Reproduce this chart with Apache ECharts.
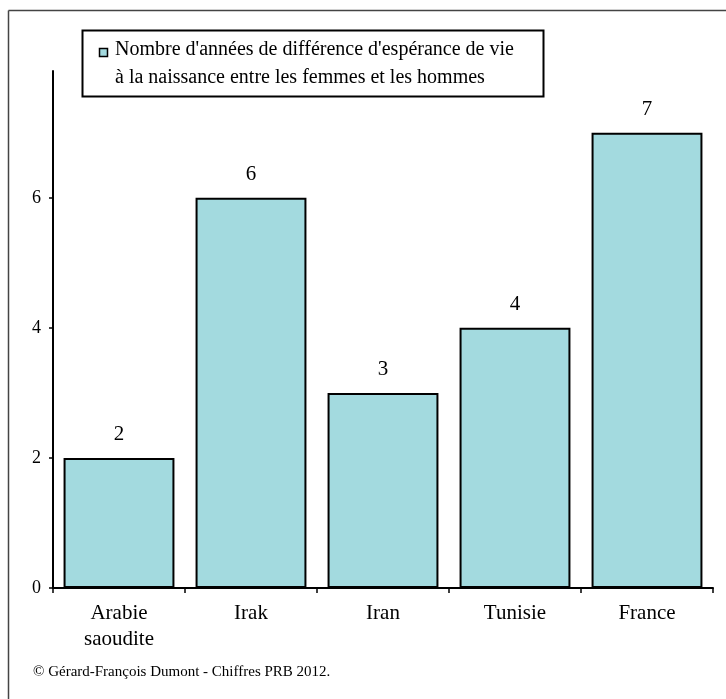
<!DOCTYPE html>
<html>
<head>
<meta charset="utf-8">
<script src="https://cdn.jsdelivr.net/npm/echarts@6/dist/echarts.min.js"></script>
<style>html,body{margin:0;padding:0;background:#fff}#c{width:726px;height:699px}</style>
</head>
<body>
<div id="c"></div>
<script>
var categories = ['Arabie\nsaoudite', 'Irak', 'Iran', 'Tunisie', 'France'];
var values = [2, 6, 3, 4, 7];
var seriesName = "Nombre d'années de différence d'espérance de vie\nà la naissance entre les femmes et les hommes";
var sourceText = '© Gérard-François Dumont - Chiffres PRB 2012.';
var yTicks = [0, 2, 4, 6];

var FONT = '"Liberation Serif", "Times New Roman", serif';
var chart = echarts.init(document.getElementById('c'), null, {renderer: 'canvas'});
chart.setOption({
  animation: false,
  backgroundColor: '#fff',
  textStyle: {fontFamily: FONT},
  grid: {left: 53, right: 13, top: 71, bottom: 111, containLabel: false},
  xAxis: {
    type: 'category',
    data: categories,
    axisLine: {lineStyle: {color: '#000', width: 2}},
    axisTick: {show: true, length: 5, lineStyle: {color: '#000', width: 1.5}},
    axisLabel: {color: '#000', fontSize: 21, fontFamily: FONT, margin: 12, lineHeight: 26, interval: 0}
  },
  yAxis: {
    type: 'value',
    min: 0, max: 7.95, interval: 2,
    splitLine: {show: false},
    axisLine: {show: true, lineStyle: {color: '#000', width: 2}},
    axisTick: {show: true, length: 4, lineStyle: {color: '#000', width: 1.5}},
    axisLabel: {color: '#000', fontSize: 18, fontFamily: FONT, margin: 12, showMaxLabel: false,
      formatter: function (v) { return yTicks.indexOf(v) >= 0 ? String(v) : ''; }}
  },
  series: [{
    type: 'bar',
    name: seriesName,
    data: values,
    barCategoryGap: '16%',
    itemStyle: {color: '#A3DADF', borderColor: '#000', borderWidth: 2},
    label: {show: true, position: 'top', distance: 13, color: '#000', fontSize: 21, fontFamily: FONT}
  }],
  graphic: [
    {type: 'line', shape: {x1: 8.5, y1: 10.5, x2: 726, y2: 10.5}, style: {stroke: '#444', lineWidth: 1.5}},
    {type: 'line', shape: {x1: 8.5, y1: 10.5, x2: 8.5, y2: 699}, style: {stroke: '#444', lineWidth: 1.5}},
    {type: 'rect', shape: {x: 82.5, y: 30.5, width: 461, height: 66}, style: {fill: '#fff', stroke: '#000', lineWidth: 2}},
    {type: 'rect', shape: {x: 99.5, y: 48.5, width: 8, height: 8}, style: {fill: '#A3DADF', stroke: '#000', lineWidth: 1.5}},
    {type: 'text', x: 115, y: 36, style: {text: seriesName, fill: '#000', font: '20px ' + FONT, lineHeight: 28, textVerticalAlign: 'top'}},
    {type: 'text', x: 33, y: 665, style: {text: sourceText, fill: '#000', font: '15px ' + FONT}}
  ]
});
</script>
</body>
</html>
